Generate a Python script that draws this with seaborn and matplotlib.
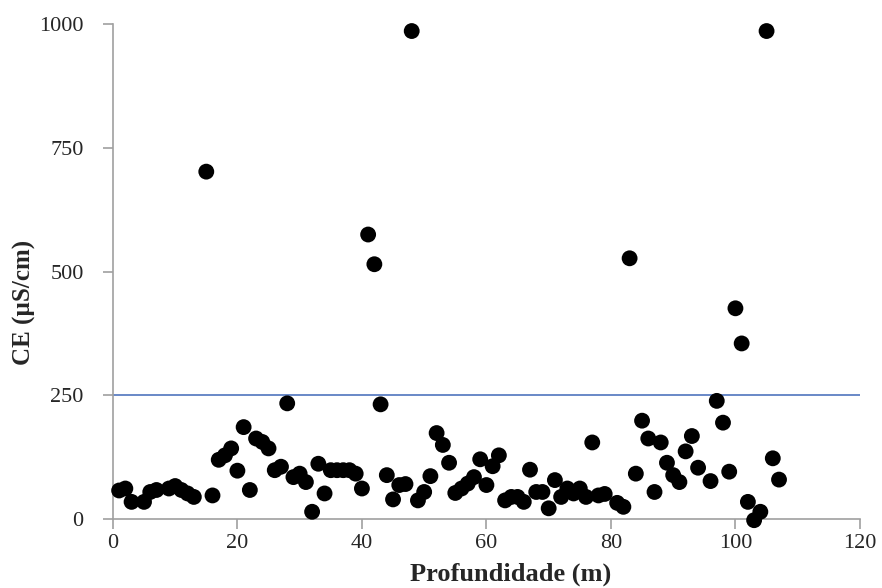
import numpy as np
import pandas as pd
import matplotlib
matplotlib.use('Agg')
import matplotlib.pyplot as plt
import seaborn as sns

# profundidade (m) e condutividade eletrica (uS/cm)
profundidade = [1, 2, 3, 5, 6, 7, 9, 10, 11, 12, 13, 15, 16, 17, 18, 19, 20,
                21, 22, 23, 24, 25, 26, 27, 28, 29, 30, 31, 32, 33, 34, 35,
                36, 37, 38, 39, 40, 41, 42, 43, 44, 45, 46, 47, 48, 49, 50,
                51, 52, 53, 54, 55, 56, 57, 58, 59, 60, 61, 62, 63, 64, 65,
                66, 67, 68, 69, 70, 71, 72, 73, 74, 75, 76, 77, 78, 79, 81,
                82, 83, 84, 85, 86, 87, 88, 89, 90, 91, 92, 93, 94, 96, 97,
                98, 99, 100, 101, 102, 103, 104, 105, 106, 107]
ce = [58, 62, 35, 35, 55, 59, 62, 67, 59, 52, 45, 702, 48, 120, 129, 143, 98,
      186, 59, 163, 156, 143, 99, 106, 234, 85, 92, 75, 15, 112, 52, 99,
      99, 99, 99, 92, 62, 575, 515, 232, 89, 40, 69, 71, 986, 38, 55,
      87, 174, 150, 114, 53, 62, 72, 85, 121, 69, 107, 129, 38, 45, 45,
      35, 100, 55, 55, 22, 79, 45, 62, 52, 62, 45, 155, 48, 51, 33,
      25, 527, 92, 199, 163, 55, 155, 114, 89, 75, 137, 168, 104, 77, 239,
      195, 96, 426, 355, 35, -2, 15, 986, 123, 80]
limite = 250

df = pd.DataFrame({'Profundidade': profundidade, 'CE': ce})

sns.set_style('ticks')
plt.rcParams['font.family'] = ['Liberation Serif', 'DejaVu Serif']

fig = plt.figure(figsize=(8.82, 5.88), dpi=100)
ax = fig.add_axes([0.128, 0.117, 0.847, 0.842])

ax.axhline(limite, color='#4F74BE', linewidth=1.2, zorder=1)
sns.scatterplot(data=df, x='Profundidade', y='CE', color='black', s=130,
                edgecolor='none', ax=ax, zorder=3, clip_on=False)

ax.set_xlim(0, 120)
ax.set_ylim(0, 1000)
ax.set_xticks(range(0, 121, 20))
ax.set_yticks([0, 250, 500, 750, 1000])
ax.tick_params(color='#a0a0a0', length=7, width=1.2, direction='out')
ax.tick_params(axis='y', labelsize=16, pad=14)
ax.tick_params(axis='x', labelsize=16, pad=4)
for side in ['top', 'right']:
    ax.spines[side].set_visible(False)
for side in ['left', 'bottom']:
    ax.spines[side].set_color('#a0a0a0')
    ax.spines[side].set_linewidth(1.2)

ax.set_xlabel('Profundidade (m)', fontsize=19, fontweight='bold')
ax.set_ylabel('CE (µS/cm)', fontsize=18, fontweight='bold')
ax.xaxis.set_label_coords(0.533, -0.088)
ax.yaxis.set_label_coords(-0.103, 0.438)

fig.savefig('out.png', dpi=100)
